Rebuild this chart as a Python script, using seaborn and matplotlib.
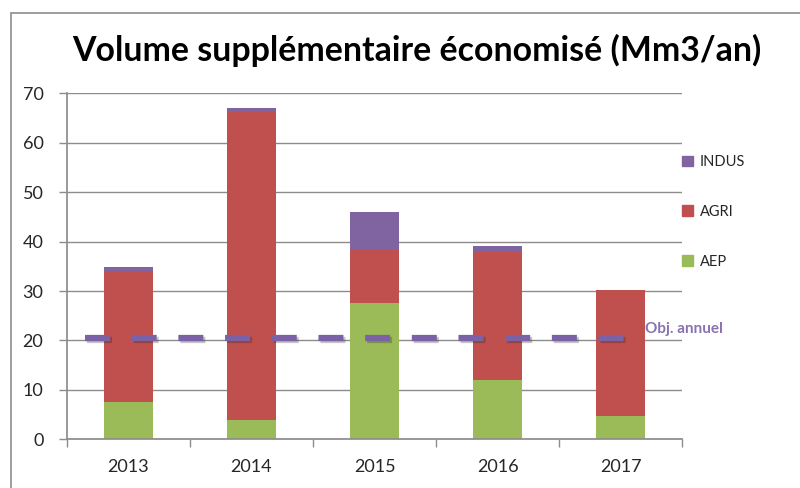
import pandas as pd
import matplotlib
matplotlib.use("Agg")
import matplotlib.pyplot as plt
import matplotlib.patheffects as pe
from matplotlib.patches import Patch, Rectangle
import seaborn as sns

# data
years = ["2013", "2014", "2015", "2016", "2017"]
aep = [7.5, 3.9, 27.6, 12.0, 4.8]
agri = [26.4, 62.3, 10.6, 26.0, 25.5]
indus = [1.0, 0.9, 7.8, 1.1, 0.0]
objectif = 20.5

c_aep = "#9BBB59"
c_agri = "#C0504D"
c_indus = "#8064A2"

sns.set_theme(style="white")
plt.rcParams["font.family"] = ["Lato", "DejaVu Sans"]

df = pd.DataFrame({"annee": years, "AEP": aep, "AGRI": agri, "INDUS": indus})
df["aep_agri"] = df["AEP"] + df["AGRI"]
df["total"] = df["aep_agri"] + df["INDUS"]

fig = plt.figure(figsize=(8, 4.88), dpi=100)
ax = fig.add_axes([0.08375, 0.0998, 0.7688, 0.709])

# stacked bars: draw the cumulative heights from the top down
for col, c in [("total", c_indus), ("aep_agri", c_agri), ("AEP", c_aep)]:
    sns.barplot(data=df, x="annee", y=col, color=c, width=0.4, saturation=1,
                errorbar=None, linewidth=0, ax=ax, zorder=2)

# annual target line
ax.plot([-0.35, 4.03], [objectif, objectif], color="#7B62A6", lw=4.5,
        dashes=(4.0, 3.47), solid_capstyle="butt", dash_capstyle="butt", zorder=3,
        path_effects=[pe.SimpleLineShadow(offset=(1, -1.5), alpha=0.25),
                      pe.Normal()])
ax.text(4.2, objectif + 1.1, "Obj. annuel", color="#8872B0", fontsize=11,
        fontweight="bold", ha="left", va="baseline")

ax.set_xlim(-0.5, 4.5)
ax.set_ylim(0, 70)
ax.set_yticks(range(0, 80, 10))
ax.yaxis.grid(True, color="#8c8c8c", lw=1)
ax.set_axisbelow(True)
ax.set_xlabel("")
ax.set_ylabel("")
for s in ["top", "right"]:
    ax.spines[s].set_visible(False)
ax.spines["left"].set_color("#8c8c8c")
ax.spines["bottom"].set_color("#8c8c8c")

# x tick marks sit between categories, labels at centres
ax.set_xticks([i - 0.5 for i in range(len(years) + 1)], minor=True)
ax.tick_params(axis="x", which="minor", length=6, color="#8c8c8c", width=1,
               direction="out", bottom=True)
ax.tick_params(axis="x", which="major", length=0, pad=14, labelsize=13,
               labelcolor="#262626")
ax.tick_params(axis="y", length=6, color="#8c8c8c", width=1, direction="out",
               left=True, pad=11, labelsize=13, labelcolor="#262626")

fig.suptitle("Volume supplémentaire économisé (Mm3/an)", x=0.521, y=0.93,
             fontsize=24.4, fontweight="bold", color="black")

handles = [Patch(color=c_indus, label="INDUS"),
           Patch(color=c_agri, label="AGRI"),
           Patch(color=c_aep, label="AEP")]
fig.legend(handles=handles, loc="upper left", bbox_to_anchor=(0.853, 0.682),
           frameon=False, fontsize=10.5, borderpad=0, borderaxespad=0,
           handlelength=0.75, handleheight=0.75, handletextpad=0.45,
           labelspacing=2.45, labelcolor="#262626")

# chart area border, cut off on the right and bottom like the screenshot
fig.patches.append(Rectangle((11 / 800, -0.05), 1.2, 0.05 + (488 - 13.5) / 488,
                             transform=fig.transFigure, fill=False,
                             edgecolor="#8c8c8c", lw=1.2, clip_on=False))

fig.savefig("out.png", dpi=100)
